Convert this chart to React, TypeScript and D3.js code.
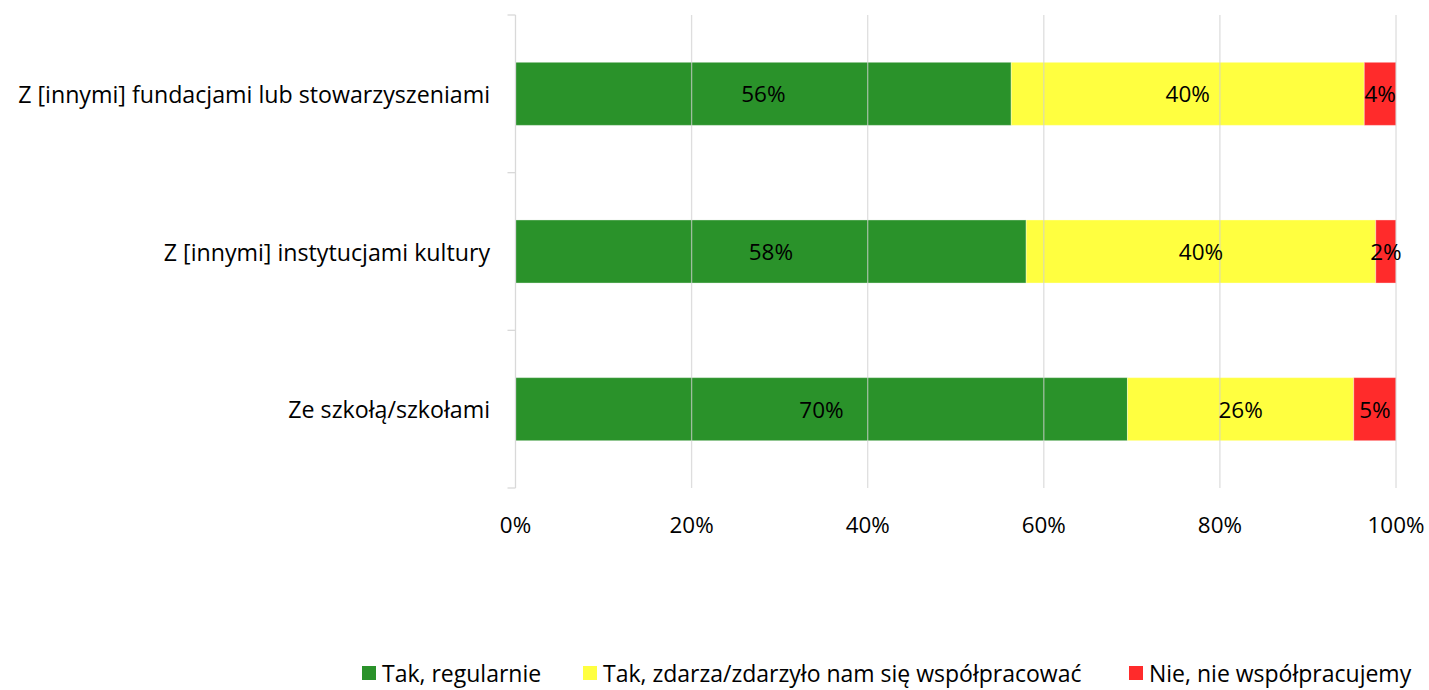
import React from 'react';
import { scaleLinear, scaleBand } from 'd3';

// categories top to bottom
const categories = [
  'Z [innymi] fundacjami lub stowarzyszeniami',
  'Z [innymi] instytucjami kultury',
  'Ze szkołą/szkołami',
];
const seriesNames = [
  'Tak, regularnie',
  'Tak, zdarza/zdarzyło nam się współpracować',
  'Nie, nie współpracujemy',
];
const regularly = [56.3, 58.0, 69.5];
const sometimes = [40.1, 39.7, 25.7];
const never = [3.6, 2.3, 4.8];
const xTicks = [0, 20, 40, 60, 80, 100];
const colors = ['#2a922a', '#ffff40', '#ff2b2b'];

const W = 1429;
const H = 690;
const font = '"Open Sans", Lato, sans-serif';

const App = () => {
  const x = scaleLinear().domain([0, 100]).range([515.5, 1396]);
  const y = scaleBand().domain(categories).range([15, 488]).paddingInner(0.6).paddingOuter(0.3);
  const step = y.step();
  const bandTops = categories.map((_, i) => 15 + i * step);
  const series = [regularly, sometimes, never];

  const legendX = [362, 583, 1129];

  return (
    <svg width={W} height={H} style={{ position: 'absolute', left: 0, top: 0, background: '#fff' }}>
      {/* bars */}
      {categories.map((c, ci) => {
        let acc = 0;
        return (
          <g key={c}>
            {series.map((s, si) => {
              const x0 = x(acc);
              acc += s[ci];
              const x1 = x(acc);
              return (
                <rect
                  key={si}
                  x={x0}
                  y={y(c)}
                  width={x1 - x0}
                  height={y.bandwidth()}
                  fill={colors[si]}
                  stroke="#ffffff"
                  strokeOpacity={0.35}
                  strokeWidth={1}
                />
              );
            })}
          </g>
        );
      })}
      {/* gridlines drawn over bars, faint */}
      {xTicks.slice(1).map(t => (
        <line key={t} x1={x(t)} x2={x(t)} y1={15} y2={488} stroke="#d0d0d0" strokeOpacity={0.7} strokeWidth={1.3} />
      ))}
      {/* left axis */}
      <line x1={x(0)} x2={x(0)} y1={15} y2={488} stroke="#d9d9d9" strokeWidth={1.3} />
      {[...bandTops, 488].map((t, i) => (
        <line key={i} x1={x(0) - 8} x2={x(0)} y1={t} y2={t} stroke="#d9d9d9" strokeWidth={1.3} />
      ))}
      {/* data labels */}
      {categories.map((c, ci) => {
        let acc = 0;
        return series.map((s, si) => {
          const mid = acc + s[ci] / 2;
          acc += s[ci];
          return (
            <text
              key={c + si}
              x={x(mid)}
              y={(y(c) as number) + y.bandwidth() / 2}
              textAnchor="middle"
              dominantBaseline="central"
              fontFamily={font}
              fontSize={22.5}
              fill="#000"
            >
              {Math.round(s[ci])}%
            </text>
          );
        });
      })}
      {/* category labels */}
      {categories.map(c => (
        <text
          key={c}
          x={490}
          y={(y(c) as number) + y.bandwidth() / 2}
          textAnchor="end"
          dominantBaseline="central"
          fontFamily={font}
          fontSize={23.2}
          fill="#000"
        >
          {c}
        </text>
      ))}
      {/* x tick labels */}
      {xTicks.map(t => (
        <text key={t} x={x(t)} y={524} textAnchor="middle" dominantBaseline="central" fontFamily={font} fontSize={22.4} fill="#000">
          {t}%
        </text>
      ))}
      {/* legend */}
      {seriesNames.map((n, i) => (
        <g key={n} transform={`translate(${legendX[i]},673)`}>
          <rect x={0} y={-7} width={14} height={14} fill={colors[i]} />
          <text x={20} y={0} dominantBaseline="central" fontFamily={font} fontSize={23} fill="#000">
            {n}
          </text>
        </g>
      ))}
    </svg>
  );
};

export default App;
